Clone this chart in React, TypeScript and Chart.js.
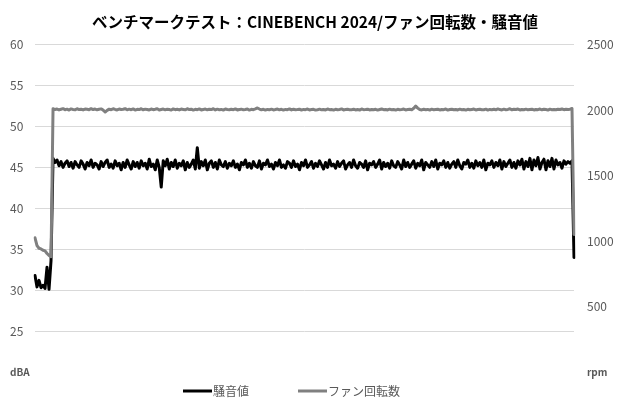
import React, { useEffect, useRef } from 'react';
import { Chart, registerables } from 'chart.js';

Chart.register(...registerables);

const TITLE = 'ベンチマークテスト：CINEBENCH 2024/ファン回転数・騒音値';
const NOISE_LABEL = '騒音値';
const FAN_LABEL = 'ファン回転数';

// dBA, one sample per step (idle -> CINEBENCH load -> stop)
const noiseIdle = [31.8, 30.4, 31.2, 30.3, 30.6, 30.2, 32.8, 30.1, 33.6];
const noiseLoad = [
  46.1, 45.6, 45.9, 45.2, 45.7, 45.0, 45.5, 45.8, 45.1, 45.6,
  44.9, 45.7, 45.3, 45.0, 45.8, 45.4, 44.8, 45.6, 45.2, 45.9,
  45.0, 45.5, 45.3, 44.8, 45.7, 45.1, 45.6, 45.9, 45.0, 45.4,
  44.9, 45.8, 45.2, 45.5, 44.7, 45.6, 45.0, 45.9, 45.3, 44.8,
  45.7, 45.1, 45.6, 44.9, 45.8, 45.2, 45.5, 44.8, 46.0, 45.1,
  45.4, 44.7, 45.9, 45.0, 42.6, 45.8, 45.2, 46.0, 44.8, 45.6,
  45.1, 45.9, 44.9, 45.5, 45.2, 45.8, 44.7, 45.6, 45.0, 45.4,
  45.9, 44.8, 47.4, 44.9, 45.7, 45.2, 45.9, 44.7, 45.5, 45.8,
  45.0, 45.6, 44.8, 45.9, 45.3, 45.1, 45.7, 44.9, 45.5, 45.2,
  45.8, 45.0, 45.4, 44.7, 45.6, 45.3, 45.9, 45.0, 45.5, 44.9,
  45.7, 45.2, 45.0, 45.8, 44.8, 45.5, 45.3, 45.9, 45.1, 45.4,
  44.8, 45.6, 45.2, 45.9, 45.0, 45.3, 44.9, 45.7, 45.5, 45.0,
  45.8, 45.1, 45.4, 44.7, 45.6, 45.2, 45.9, 45.0, 45.3, 45.7,
  44.9, 45.5, 45.1, 45.8, 45.3, 44.8, 45.6, 45.0, 45.9, 45.2,
  45.4, 44.9, 45.7, 45.1, 45.5, 45.8, 44.8, 45.3, 45.6, 45.0,
  45.9, 45.2, 44.9, 45.6, 45.4, 45.0, 45.8, 44.7, 45.5, 45.3,
  45.7, 45.0, 45.4, 45.9, 44.8, 45.6, 45.1, 45.5, 44.9, 45.8,
  45.2, 45.0, 45.7, 45.3, 44.8, 45.9, 45.1, 45.6, 45.0, 45.4,
  45.8, 44.9, 45.5, 45.2, 45.9, 44.7, 45.6, 45.3, 45.0, 45.7,
  45.1, 45.9, 44.8, 45.5, 45.3, 45.8, 45.0, 45.6, 44.9, 45.4,
  45.7, 45.0, 45.9, 45.2, 44.8, 45.6, 45.4, 45.9, 45.0, 45.5,
  44.9, 45.8, 45.2, 45.6, 45.0, 45.9, 44.7, 45.5, 45.3, 45.8,
  45.0, 45.6, 45.2, 45.9, 44.8, 45.7, 45.1, 45.5, 45.9, 45.0,
  45.6, 44.9, 45.8, 45.3, 46.0, 44.8, 45.7, 45.1, 46.1, 44.7,
  45.9, 45.2, 46.2, 44.8, 45.6, 46.0, 44.7, 45.8, 45.1, 46.1,
  44.8, 45.9, 45.3, 45.6, 44.9, 45.8, 45.4, 45.7, 45.5,
];
const noiseEnd = [45.8, 34.0];

// rpm
const fanIdle = [1025, 965, 945, 940, 930, 925, 905, 890, 880];
const fanLoad = [
  2010, 2004, 2008, 2001, 2006, 2011, 2003, 2007, 2000, 2009,
  2005, 2002, 2010, 2004, 2007, 2001, 2008, 2006, 2003, 2011,
  2004, 2008, 2002, 2006, 2009, 2000, 1985, 1998, 2007, 2003,
  2010, 2005, 2001, 2008, 2004, 2006, 2011, 2002, 2007, 2003,
  2009, 2000, 2006, 2004, 2010, 2002, 2007, 2005, 2001, 2008,
  2003, 2006, 2010, 2001, 2005, 2008, 2002, 2007, 2004, 2000,
  2009, 2003, 2006, 2001, 2008, 2005, 2002, 2010, 2004, 2007,
  2000, 2006, 2003, 2009, 2001, 2005, 2008, 2002, 2006, 2004,
  2010, 2001, 2007, 2003, 2005, 2000, 2008, 2004, 2002, 2006,
  2003, 2009, 2001, 2005, 2007, 2002, 2004, 2008, 2000, 2006,
  2003, 2009, 2016, 2008, 2002, 2006, 2000, 2005, 2003, 2007,
  2001, 2004, 2008, 2002, 2006, 2000, 2005, 2003, 2009, 2001,
  2006, 2002, 2004, 2007, 2000, 2005, 2003, 2008, 2001, 2004,
  2006, 2000, 2003, 2007, 2002, 2005, 2001, 2008, 2003, 2004,
  2000, 2006, 2002, 2005, 2009, 2001, 2004, 2007, 2002, 2003,
  2006, 2001, 2005, 2000, 2008, 2003, 2004, 2007, 2001, 2005,
  2002, 2006, 2000, 2004, 2008, 2003, 2005, 2001, 2007, 2002,
  2004, 2000, 2006, 2003, 2005, 2008, 2001, 2004, 2006, 2002,
  2014, 2030, 2015, 2004, 2001, 2006, 2003, 2005, 2000, 2007,
  2002, 2004, 2006, 2001, 2005, 2003, 2008, 2000, 2004, 2006,
  2002, 2005, 2001, 2007, 2003, 2004, 2000, 2006, 2002, 2005,
  2008, 2001, 2004, 2006, 2002, 2003, 2007, 2000, 2005, 2003,
  2006, 2002, 2009, 2004, 2001, 2007, 2003, 2005, 2010, 2002,
  2006, 2004, 2008, 2001, 2005, 2003, 2007, 2002, 2004, 2006,
  2001, 2005, 2003, 2008, 2002, 2006, 2004, 2000, 2007, 2003,
  2005, 2002, 2006, 2004, 2008, 2003, 2006, 2004, 2007,
];
const fanEnd = [2012, 1050];

const noiseValues = [...noiseIdle, ...noiseLoad, ...noiseEnd];
const fanValues = [...fanIdle, ...fanLoad, ...fanEnd];
const samples = noiseValues.map((_, i) => String(i));

const AXIS_GREY = '#595959';
const FONT = '"Noto Sans CJK JP", "Noto Sans", sans-serif';

// Excel-style legend: short thick line followed by the label
const lineLegend = {
  id: 'lineLegend',
  afterDraw(chart: any, _args: any, opts: any) {
    const { ctx } = chart;
    ctx.save();
    ctx.font = `12px ${FONT}`;
    ctx.textBaseline = 'middle';
    ctx.textAlign = 'left';
    let x = opts.left;
    chart.data.datasets.forEach((ds: any) => {
      ctx.strokeStyle = ds.borderColor;
      ctx.lineWidth = 3;
      ctx.beginPath();
      ctx.moveTo(x, opts.y);
      ctx.lineTo(x + opts.lineLength, opts.y);
      ctx.stroke();
      ctx.fillStyle = AXIS_GREY;
      ctx.fillText(ds.label, x + opts.lineLength + 1, opts.y);
      x += opts.step;
    });
    ctx.restore();
  },
};

export default function App() {
  const canvasRef = useRef<HTMLCanvasElement>(null);
  const chartRef = useRef<Chart | null>(null);

  useEffect(() => {
    if (!canvasRef.current) return;
    if (chartRef.current) chartRef.current.destroy();

    chartRef.current = new Chart(canvasRef.current, {
      type: 'line',
      data: {
        labels: samples,
        datasets: [
          {
            label: NOISE_LABEL,
            data: noiseValues,
            yAxisID: 'y',
            borderColor: '#000000',
            backgroundColor: '#000000',
            borderWidth: 3,
            pointRadius: 0,
            borderJoinStyle: 'round',
            borderCapStyle: 'round',
            order: 1,
          },
          {
            label: FAN_LABEL,
            data: fanValues,
            yAxisID: 'y1',
            borderColor: '#808080',
            backgroundColor: '#808080',
            borderWidth: 3,
            pointRadius: 0,
            borderJoinStyle: 'round',
            borderCapStyle: 'round',
            order: 0,
          },
        ],
      },
      options: {
        responsive: true,
        maintainAspectRatio: false,
        animation: false,
        layout: { padding: { left: 10, right: 0, top: 0, bottom: 28 } },
        plugins: {
          legend: { display: false },
          tooltip: { enabled: false },
          title: {
            display: true,
            text: TITLE,
            color: '#000000',
            font: { family: FONT, size: 15.5, weight: 'bold' },
            padding: { top: 13, bottom: 13 },
          },
          lineLegend: { left: 183, y: 391, lineLength: 29, step: 115 },
        } as any,
        scales: {
          x: {
            display: false,
            offset: false,
          },
          y: {
            position: 'left',
            min: 20,
            max: 60,
            border: { display: false },
            grid: {
              color: (c: any) => (c.tick && c.tick.value === 20 ? 'rgba(0,0,0,0)' : '#d9d9d9'),
              lineWidth: 1,
              drawTicks: false,
            },
            ticks: {
              stepSize: 5,
              crossAlign: 'far',
              color: AXIS_GREY,
              font: (c: any) =>
                c.tick && c.tick.value === 20
                  ? { family: FONT, size: 10, weight: 'bold' }
                  : { family: FONT, size: 12 },
              callback: (v: any) => (v === 20 ? 'dBA' : v),
            },
            afterFit: (scale: any) => {
              scale.width = 25;
            },
          },
          y1: {
            position: 'right',
            min: 0,
            max: 2500,
            border: { display: false },
            grid: { display: false, drawTicks: false },
            ticks: {
              stepSize: 500,
              padding: 13,
              color: AXIS_GREY,
              font: (c: any) =>
                c.tick && c.tick.value === 0
                  ? { family: FONT, size: 10, weight: 'bold' }
                  : { family: FONT, size: 12 },
              callback: (v: any) => (v === 0 ? 'rpm' : v),
            },
            afterFit: (scale: any) => {
              scale.width = 46;
            },
          },
        },
      },
      plugins: [lineLegend],
    });

    return () => {
      if (chartRef.current) {
        chartRef.current.destroy();
        chartRef.current = null;
      }
    };
  }, []);

  return (
    <div style={{ position: 'fixed', left: 0, top: 0, width: '620px', height: '400px', background: '#fff' }}>
      <canvas ref={canvasRef}></canvas>
    </div>
  );
}
